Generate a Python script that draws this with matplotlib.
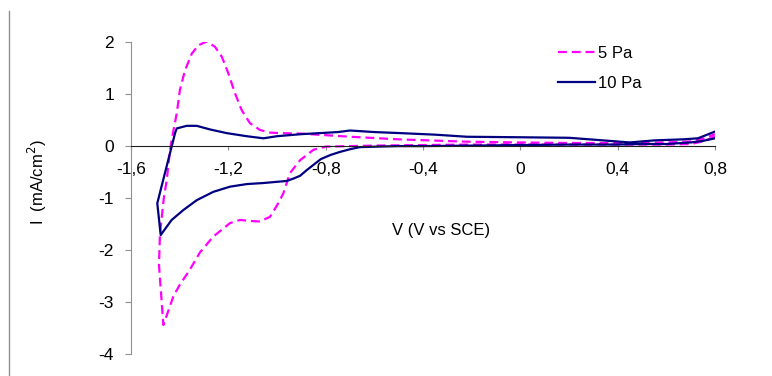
import matplotlib
matplotlib.use("Agg")
from matplotlib import pyplot as plt
from matplotlib.lines import Line2D

plt.rcParams['font.family'] = ['Liberation Sans', 'DejaVu Sans']

# 5 Pa curve (potential in V vs SCE, current in mA/cm2)
v_5pa = [0.80, 0.75, 0.70, 0.60, 0.40, 0.20, 0.0, -0.20, -0.40, -0.60, -0.70,
         -0.80, -0.85, -0.905, -0.947, -0.974, -1.00, -1.029, -1.07, -1.11,
         -1.152, -1.193, -1.262, -1.316, -1.36, -1.40, -1.426, -1.467, -1.485,
         -1.481, -1.465, -1.453, -1.44, -1.433, -1.412, -1.399, -1.378, -1.35,
         -1.323, -1.289, -1.255, -1.227, -1.20, -1.173, -1.145, -1.111, -1.07,
         -1.029, -0.988, -0.90, -0.80, -0.70, -0.50, -0.22, 0.0, 0.20, 0.40,
         0.60, 0.70, 0.75, 0.80]
i_5pa = [0.17, 0.08, 0.03, 0.02, 0.02, 0.02, 0.02, 0.02, 0.01, 0.0, -0.01,
         -0.02, -0.08, -0.28, -0.53, -0.92, -1.15, -1.37, -1.46, -1.45,
         -1.43, -1.49, -1.75, -2.05, -2.40, -2.68, -2.90, -3.45, -2.30,
         -1.70, -1.00, -0.66, -0.10, 0.11, 0.62, 1.07, 1.45, 1.77,
         1.93, 2.00, 1.90, 1.71, 1.39, 1.01, 0.68, 0.43, 0.30,
         0.25, 0.24, 0.23, 0.20, 0.17, 0.12, 0.075, 0.06, 0.05, 0.05,
         0.06, 0.08, 0.13, 0.22]

# 10 Pa curve
v_10pa = [0.80, 0.75, 0.70, 0.60, 0.50, 0.40, 0.20, 0.0, -0.20, -0.40, -0.50,
          -0.59, -0.66, -0.70, -0.74, -0.78, -0.82, -0.85, -0.88, -0.905,
          -0.93, -0.96, -1.056, -1.124, -1.193, -1.262, -1.33, -1.385, -1.433,
          -1.478, -1.492, -1.478, -1.433, -1.419, -1.412, -1.371, -1.33, -1.275,
          -1.207, -1.124, -1.056, -1.001, -0.90, -0.823, -0.75, -0.70, -0.60,
          -0.494, -0.35, -0.22, 0.0, 0.20, 0.396, 0.45, 0.55, 0.669, 0.73, 0.80]
i_10pa = [0.14, 0.09, 0.06, 0.03, 0.03, 0.02, 0.02, 0.01, 0.0, -0.01, -0.01,
          -0.02, -0.03, -0.07, -0.12, -0.18, -0.26, -0.37, -0.48, -0.58,
          -0.63, -0.68, -0.72, -0.74, -0.79, -0.89, -1.05, -1.24, -1.43,
          -1.72, -1.11, -0.85, -0.02, 0.24, 0.33, 0.38, 0.38, 0.31,
          0.24, 0.18, 0.14, 0.18, 0.22, 0.24, 0.26, 0.29, 0.26,
          0.24, 0.21, 0.17, 0.16, 0.15, 0.08, 0.06, 0.10, 0.12, 0.14, 0.27]

x_ticks = [-1.6, -1.2, -0.8, -0.4, 0.0, 0.4, 0.8]
x_tick_labels = ["-1,6", "-1,2", "-0,8", "-0,4", "0", "0,4", "0,8"]
y_ticks = [-4, -3, -2, -1, 0, 1, 2]
y_tick_labels = ["-4", "-3", "-2", "-1", "0", "1", "2"]

fig = plt.figure(figsize=(7.72, 3.76), dpi=100)
ax = fig.add_axes([0.1697, 0.0596, 0.7565, 0.8298])

ax.plot(v_5pa, i_5pa, color="#FF00FF", lw=1.6, ls=(0, (4, 2.2)), label="5 Pa")
ax.plot(v_10pa, i_10pa, color="#000080", lw=1.6, label="10 Pa")

ax.set_xlim(-1.6, 0.8)
ax.set_ylim(-4, 2)

ax.spines["top"].set_visible(False)
ax.spines["right"].set_visible(False)
ax.spines["left"].set_color("#909090")
ax.spines["bottom"].set_position(("data", 0))
ax.spines["bottom"].set_color("#202020")

ax.set_xticks(x_ticks)
ax.set_xticklabels(x_tick_labels)
ax.set_yticks(y_ticks)
ax.set_yticklabels(y_tick_labels)
ax.tick_params(axis="x", length=3, pad=9, color="#909090", labelsize=12.5)
ax.tick_params(axis="y", length=4.3, pad=8, color="#909090", labelsize=12.5)

ax.legend(loc="upper left", bbox_to_anchor=(0.7228, 0.877), bbox_transform=fig.transFigure,
          frameon=False, fontsize=12, handlelength=2.2, handletextpad=0.2,
          labelspacing=0.9, borderpad=0, borderaxespad=0)

fig.text(441.5 / 772, 1 - 230 / 376, "V (V vs SCE)", ha="center", va="center", fontsize=12)
fig.text(37 / 772, 1 - 182 / 376, "I  (mA/cm$^2$)", ha="center", va="center",
         rotation=90, fontsize=12)

fig.add_artist(Line2D([9 / 772, 9 / 772], [0, 1 - 11 / 376], transform=fig.transFigure,
                      color="#909090", lw=1))

fig.savefig("out.png", dpi=100)
